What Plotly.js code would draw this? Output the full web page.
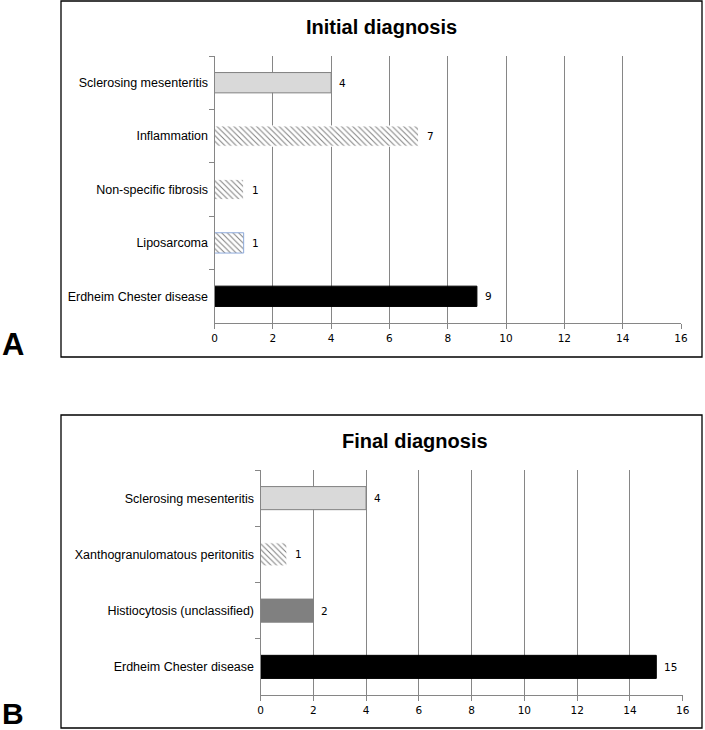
<!DOCTYPE html>
<html>
<head>
<meta charset="utf-8">
<script src="https://cdn.plot.ly/plotly-3.0.1.min.js"></script>
<style>html,body{margin:0;padding:0;background:#fff;}#chart{width:705px;height:730px;}</style>
</head>
<body>
<div id="chart"></div>
<script>
// ---- Data ----
var initialCategories = ["Sclerosing mesenteritis", "Inflammation", "Non-specific fibrosis", "Liposarcoma", "Erdheim Chester disease"];
var initialCounts = [4, 7, 1, 1, 9];
var finalCategories = ["Sclerosing mesenteritis", "Xanthogranulomatous peritonitis", "Histiocytosis (unclassified)", "Erdheim Chester disease"];
var finalCounts = [4, 1, 2, 15];
var panelTitles = ["Initial diagnosis", "Final diagnosis"];
var panelLetters = ["A", "B"];

// ---- Styles (per category) ----
var grey = '#868686';
var initialStyle = {
  hatched: [false, true, true, true, false],
  color: ['#d9d9d9', '#ffffff', '#ffffff', '#ffffff', '#000000'],
  line: ['#808080', '#ffffff', '#ffffff', '#8eaadb', '#000000']
};
var finalStyle = {
  hatched: [false, true, false, false],
  color: ['#d9d9d9', '#ffffff', '#808080', '#000000'],
  line: ['#808080', '#ffffff', '#808080', '#000000']
};

function traces(cats, vals, st, xa, ya, w) {
  var out = [];
  for (var i = 0; i < cats.length; i++) {
    var t = {
      type: 'bar', orientation: 'h', x: [vals[i]], y: [cats[i]], xaxis: xa, yaxis: ya,
      width: w, hoverinfo: 'none',
      marker: {color: st.color[i], line: {color: st.line[i], width: 1}}
    };
    if (st.hatched[i]) {
      t.marker.pattern = {shape: '\\', fgcolor: '#7f7f7f', bgcolor: '#ffffff', size: 4, solidity: 0.25};
    }
    out.push(t);
  }
  return out;
}

var W = 705, H = 730;
function px(x) { return x / W; }
function py(y) { return 1 - y / H; }

var tickFont = {family: 'DejaVu Sans', size: 10.5, color: '#000'};
var catFont = {family: 'Liberation Sans', size: 12.5, color: '#000'};

function xAxis(dom, anchor) {
  return {
    domain: dom, anchor: anchor, range: [0, 16], dtick: 2, tick0: 0,
    showgrid: true, gridcolor: grey, gridwidth: 1, zeroline: false,
    showline: true, linecolor: grey, linewidth: 1,
    ticks: 'outside', ticklen: 5, tickcolor: grey, tickfont: tickFont, fixedrange: true
  };
}
function yAxis(dom, anchor, cats) {
  return {
    domain: dom, anchor: anchor, type: 'category', categoryorder: 'array', categoryarray: cats,
    autorange: 'reversed',
    showgrid: false, zeroline: false, showline: true, linecolor: grey, linewidth: 1,
    ticks: 'outside', tickson: 'boundaries', ticklen: 5, tickcolor: grey,
    ticklabelstandoff: 3, tickfont: catFont, fixedrange: true
  };
}

var data = traces(initialCategories, initialCounts, initialStyle, 'x', 'y', 0.38)
  .concat(traces(finalCategories, finalCounts, finalStyle, 'x2', 'y2', 0.41));

var annotations = [];
function addLabels(cats, vals, xr, yr) {
  for (var i = 0; i < cats.length; i++) {
    annotations.push({
      x: vals[i], y: cats[i], xref: xr, yref: yr, text: String(vals[i]),
      xanchor: 'left', yanchor: 'middle', xshift: 6, showarrow: false, font: tickFont
    });
  }
}
addLabels(initialCategories, initialCounts, 'x', 'y');
addLabels(finalCategories, finalCounts, 'x2', 'y2');

annotations.push({x: px(381), y: py(27), xref: 'paper', yref: 'paper', text: '<b>' + panelTitles[0] + '</b>',
  showarrow: false, xanchor: 'center', yanchor: 'middle', font: {family: 'Liberation Sans', size: 20, color: '#000'}});
annotations.push({x: px(415), y: py(441), xref: 'paper', yref: 'paper', text: '<b>' + panelTitles[1] + '</b>',
  showarrow: false, xanchor: 'center', yanchor: 'middle', font: {family: 'Liberation Sans', size: 20, color: '#000'}});
annotations.push({x: px(0), y: py(344), xref: 'paper', yref: 'paper', text: '<b>' + panelLetters[0] + '</b>',
  showarrow: false, xanchor: 'left', yanchor: 'middle', font: {family: 'Liberation Sans', size: 31, color: '#000'}});
annotations.push({x: px(0), y: py(713), xref: 'paper', yref: 'paper', text: '<b>' + panelLetters[1] + '</b>',
  showarrow: false, xanchor: 'left', yanchor: 'middle', font: {family: 'Liberation Sans', size: 30, color: '#000'}});

var layout = {
  width: W, height: H, margin: {l: 0, r: 0, t: 0, b: 0},
  paper_bgcolor: '#fff', plot_bgcolor: 'rgba(0,0,0,0)', showlegend: false,
  barmode: 'overlay',
  xaxis: xAxis([px(214.5), px(681)], 'y'),
  yaxis: yAxis([py(323), py(56)], 'x', initialCategories),
  xaxis2: xAxis([px(260.5), px(682.7)], 'y2'),
  yaxis2: yAxis([py(695), py(470)], 'x2', finalCategories),
  annotations: annotations,
  shapes: [
    {type: 'rect', xref: 'paper', yref: 'paper', x0: px(61), x1: px(702), y0: py(357), y1: py(1), line: {color: '#000', width: 1.3}},
    {type: 'rect', xref: 'paper', yref: 'paper', x0: px(61), x1: px(702), y0: py(728), y1: py(415), line: {color: '#000', width: 1.3}}
  ]
};

Plotly.newPlot('chart', data, layout, {staticPlot: true, displayModeBar: false});
</script>
</body>
</html>
